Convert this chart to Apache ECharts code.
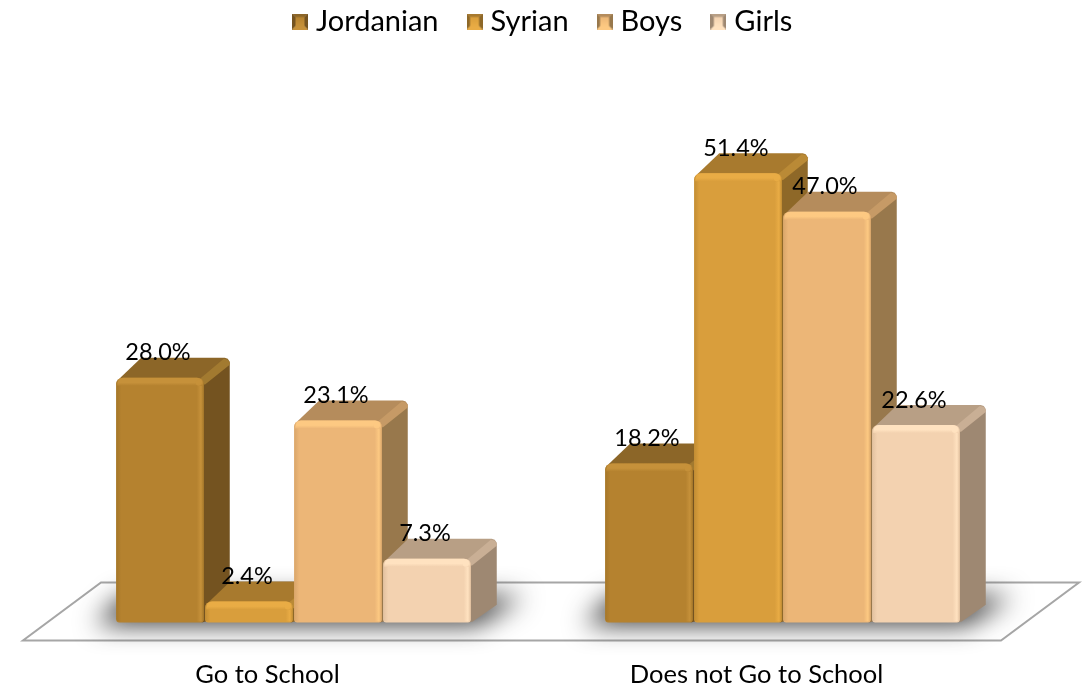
<!DOCTYPE html>
<html><head><meta charset="utf-8">
<style>html,body{margin:0;padding:0;background:#fff}#c{width:1084px;height:685px}</style>
<script src="https://cdn.jsdelivr.net/npm/echarts@6/dist/echarts.min.js"></script>
</head><body><div id="c"></div>
<script>
const categories = ['Go to School', 'Does not Go to School'];
const seriesNames = ['Jordanian', 'Syrian', 'Boys', 'Girls'];
const jordanian = [28.0, 18.2];
const syrian = [2.4, 51.4];
const boys = [23.1, 47.0];
const girls = [7.3, 22.6];
const values = [jordanian, syrian, boys, girls];

const palette = [
  {front:'#B5822F', light:'#C6913A', edge:'#A57729', top:'#8C6628', topLight:'#A27A30', side:'#745320'},
  {front:'#D99E3C', light:'#E9AC45', edge:'#C28D33', top:'#A87A2E', topLight:'#BA8A36', side:'#8E6828'},
  {front:'#ECB677', light:'#FDC982', edge:'#D9A66A', top:'#B58C5C', topLight:'#C69A66', side:'#98784C'},
  {front:'#F3D2B0', light:'#FFE2C0', edge:'#E2C19F', top:'#B89F85', topLight:'#C9AF95', side:'#9E8872'}
];

const DX = 26, DY = 20, STEP_FRAC = 89 / 489, WIDTH_FRAC = 87.5 / 489;

function bevelIcon(p) {
  const s = 32, c = document.createElement('canvas');
  c.width = c.height = s;
  const g = c.getContext('2d');
  const tri = (pts, col) => { g.fillStyle = col; g.beginPath(); pts.forEach((q, i) => i ? g.lineTo(q[0], q[1]) : g.moveTo(q[0], q[1])); g.closePath(); g.fill(); };
  const m = s / 2;
  tri([[0,0],[s,0],[m,m]], p.top);
  tri([[0,s],[s,s],[m,m]], p.light);
  tri([[0,0],[0,s],[m,m]], p.side);
  tri([[s,0],[s,s],[m,m]], p.side);
  const gr = g.createLinearGradient(0, 7, 0, s - 7);
  gr.addColorStop(0, p.front); gr.addColorStop(1, p.light);
  g.fillStyle = gr; g.fillRect(7, 7, s - 14, s - 14);
  return c.toDataURL();
}

function renderFloor(params, api) {
  const cs = params.coordSys, x0 = cs.x, x1 = cs.x + cs.width, base = cs.y + cs.height;
  const OFF = 3000;
  const shadows = [0, 1].map(i => {
    const cx = api.coord([i, 0])[0] + DX;
    return {
      type: 'polygon', silent: true,
      shape: {points: [[cx - 198 - OFF, base + 2], [cx + 184 - OFF, base + 2], [cx + 230 - OFF, base - 26], [cx - 170 - OFF, base - 26]]},
      style: {fill: '#333', shadowBlur: 26, shadowColor: '#333', shadowOffsetX: OFF}
    };
  });
  return {type: 'group', children: [{
    type: 'polygon', silent: true,
    shape: {points: [[x0, base + 18], [x1, base + 18], [x1 + 78, base - 40], [x0 + 78, base - 40]]},
    style: {fill: '#fff', stroke: '#a6a6a6', lineWidth: 2}
  }].concat(shadows)};
}

function renderBar(si) {
  return function (params, api) {
    const cat = api.value(0), val = api.value(1);
    const p = palette[si];
    const band = api.size([1, 0])[0];
    const centre = api.coord([cat, 0])[0] + DX + (si - 1.5) * band * STEP_FRAC;
    const w = band * WIDTH_FRAC;
    const yb = api.coord([cat, 0])[1], yt = api.coord([cat, val])[1];
    const l = centre - w / 2, r = centre + w / 2, h = yb - yt;
    const grad = (stops, horiz) => new echarts.graphic.LinearGradient(0, 0, horiz ? 1 : 0, horiz ? 0 : 1, stops);
    return {type: 'group', children: [
      {type: 'polygon', shape: {points: [[r - 3, yt + 3], [r + DX - 1, yt - DY + 4], [r + DX, yt - DY + 7], [r + DX, yb - DY + 2], [r + DX - 1, yb - DY + 3], [r + 2, yb - 1], [r - 2, yb]]}, style: {fill: p.side}},
      {type: 'polygon', shape: {points: [[l + 3, yt + 1], [l + DX - 1, yt - DY], [r + DX - 5, yt - DY], [r + DX - 2, yt - DY + 1], [r + DX, yt - DY + 4], [r + DX, yt - DY + 6], [r - 2, yt + 4]]}, style: {fill: p.top}},
      {type: 'polygon', shape: {points: [[r - 5, yt + 2], [r + DX - 6, yt - DY + 1], [r + DX - 2, yt - DY + 2], [r + DX, yt - DY + 5], [r + DX, yt - DY + 7], [r + 1, yt + 7]]}, style: {fill: p.topLight}},
      {type: 'rect', shape: {x: l, y: yt, width: w, height: h, r: [6, 6, 3, 3]}, style: {fill: p.front}},
      {type: 'rect', shape: {x: l, y: yt + 2, width: 5, height: h - 3, r: [4, 0, 0, 3]}, style: {fill: grad([{offset: 0, color: p.edge}, {offset: 1, color: p.front}], true)}},
      {type: 'rect', shape: {x: r - 7, y: yt + 1, width: 7, height: h - 2, r: [0, 5, 3, 0]}, style: {fill: grad([{offset: 0, color: p.front}, {offset: 0.6, color: p.light}, {offset: 1, color: p.edge}], true)}},
      {type: 'rect', shape: {x: l + 1, y: yt, width: w - 2, height: Math.min(8, h), r: [6, 6, 0, 0]}, style: {fill: grad([{offset: 0, color: p.light}, {offset: 0.6, color: p.light}, {offset: 1, color: p.front}], false)}},
      {type: 'circle', shape: {cx: r - 5, cy: yt + 5, r: 3}, style: {fill: p.light, opacity: 0.9}},
      {type: 'text', z2: 100, style: {x: centre - 2, y: yt - 25, text: val.toFixed(1) + '%', fill: '#000', font: '23.5px Lato', align: 'center', verticalAlign: 'middle'}}
    ]};
  };
}

const chart = echarts.init(document.getElementById('c'), null, {renderer: 'canvas'});
chart.setOption({
  animation: false,
  backgroundColor: '#fff',
  legend: {
    data: seriesNames.map((n, i) => ({name: n, icon: 'image://' + bevelIcon(palette[i])})),
    top: 2, left: 287, itemWidth: 16, itemHeight: 16, itemGap: 28,
    textStyle: {fontFamily: 'Lato', fontSize: 29, color: '#000', padding: [0, 0, 0, 3]}
  },
  grid: {left: 23, width: 978, top: 98, height: 524.5, outerBoundsMode: 'none'},
  xAxis: {
    type: 'category', data: categories,
    axisLine: {show: false}, axisTick: {show: false}, splitLine: {show: false},
    axisLabel: {fontFamily: 'Lato', fontSize: 25.5, color: '#000', margin: 39}
  },
  yAxis: {type: 'value', min: 0, max: 60, show: false, splitLine: {show: false}},
  series: [
    {type: 'custom', name: '_floor', renderItem: renderFloor, data: [[0, 0]], encode: {x: 0, y: 1}, z: 1, silent: true}
  ].concat(seriesNames.map((n, si) => ({
    type: 'custom', name: n, z: 2 + si, renderItem: renderBar(si),
    data: categories.map((c, ci) => [ci, values[si][ci]]), encode: {x: 0, y: 1}
  })))
});
</script></body></html>
